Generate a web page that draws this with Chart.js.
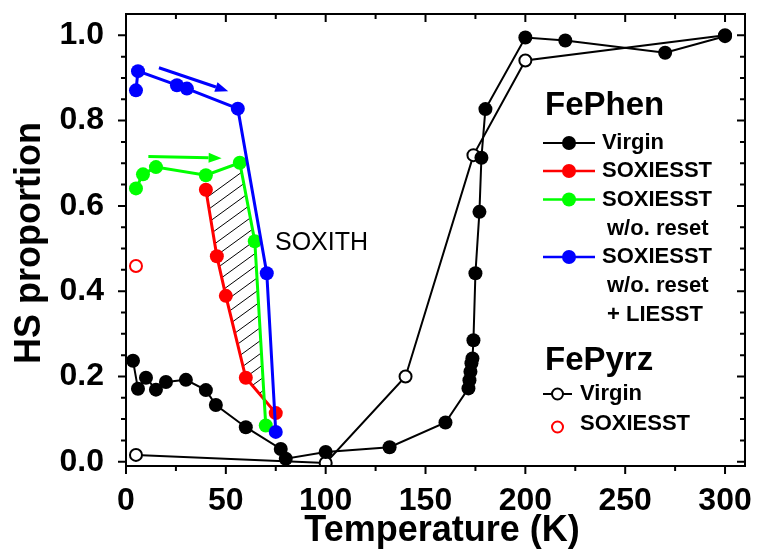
<!DOCTYPE html>
<html>
<head>
<meta charset="utf-8">
<script src="https://cdn.jsdelivr.net/npm/chart.js@4.4.1/dist/chart.umd.min.js"></script>
<style>
  html, body { margin: 0; padding: 0; background: #fff; }
  #wrap { width: 757px; height: 557px; }
</style>
</head>
<body>
<div id="wrap"><canvas id="hsChart" width="757" height="557"></canvas></div>
<script>
// FePhen virgin
const virginT = [3.5, 6, 10, 15, 20, 30, 40, 45, 60, 77.5, 80, 100, 132, 160, 171.5, 172, 172.5, 173, 173.5, 174, 175, 177, 178, 180, 200, 220, 270, 300];
const virginHS = [0.237, 0.171, 0.197, 0.169, 0.187, 0.192, 0.168, 0.133, 0.081, 0.030, 0.007, 0.023, 0.034, 0.092, 0.172, 0.191, 0.211, 0.231, 0.242, 0.285, 0.442, 0.586, 0.713, 0.827, 0.995, 0.988, 0.959, 0.998];
// FePhen SOXIESST
const redT = [40, 45.5, 50, 60, 75];
const redHS = [0.638, 0.482, 0.389, 0.197, 0.114];
// SOXIESST w/o. reset
const greenT = [5, 8.5, 15, 40, 57, 64.5, 70];
const greenHS = [0.641, 0.674, 0.691, 0.672, 0.701, 0.517, 0.085];
// SOXIESST w/o. reset + LIESST
const blueT = [5, 6, 25.5, 30.5, 56, 70.5, 75];
const blueHS = [0.871, 0.916, 0.883, 0.875, 0.828, 0.442, 0.070];
// FePyrz
const pyrzT = [5, 100, 140, 174, 200, 300];
const pyrzHS = [0.016, -0.003, 0.2, 0.719, 0.941, 1.0];
const pyrzSoxT = [5];
const pyrzSoxHS = [0.459];
// SOXITH area (hatched)
const hatchT = [40, 57, 64.5, 69.2, 60, 50, 45.5];
const hatchHS = [0.638, 0.701, 0.517, 0.146, 0.197, 0.389, 0.482];
// arrows [T0, HS0, T1, HS1]
const blueArrow = [16.5, 0.924, 51.2, 0.869];
const greenArrow = [11.2, 0.716, 47.9, 0.712];

const xTicks = [0, 50, 100, 150, 200, 250, 300];
const yTicks = [0, 0.2, 0.4, 0.6, 0.8, 1.0];

const FONT = '"Liberation Sans", Arial, Helvetica, sans-serif';

function pts(xs, ys) {
    return xs.map((x, i) => ({ x: x, y: ys[i] }));
}

// hatch + arrows + frame + legend
const extras = {
    id: 'extras',
    beforeDatasetsDraw(chart) {
        const ctx = chart.ctx;
        const xs = chart.scales.x, ys = chart.scales.y;
        ctx.save();
        ctx.beginPath();
        hatchT.forEach((t, i) => {
            const px = xs.getPixelForValue(t), py = ys.getPixelForValue(hatchHS[i]);
            i === 0 ? ctx.moveTo(px, py) : ctx.lineTo(px, py);
        });
        ctx.closePath();
        ctx.clip();
        ctx.strokeStyle = '#000';
        ctx.lineWidth = 1;
        const slope = Math.tan(36 * Math.PI / 180);
        for (let c = 100; c < 520; c += 13) {
            ctx.beginPath();
            ctx.moveTo(180, c);
            ctx.lineTo(300, c - 120 * slope);
            ctx.stroke();
        }
        ctx.restore();
    },
    afterDatasetsDraw(chart) {
        const ctx = chart.ctx;
        const xs = chart.scales.x, ys = chart.scales.y;
        const arrow = (a, color) => {
            const x0 = xs.getPixelForValue(a[0]), y0 = ys.getPixelForValue(a[1]);
            const x1 = xs.getPixelForValue(a[2]), y1 = ys.getPixelForValue(a[3]);
            const ang = Math.atan2(y1 - y0, x1 - x0);
            const hl = 13, hw = 5;
            ctx.save();
            ctx.strokeStyle = color;
            ctx.fillStyle = color;
            ctx.lineWidth = 3;
            ctx.beginPath();
            ctx.moveTo(x0, y0);
            ctx.lineTo(x1 - hl * Math.cos(ang), y1 - hl * Math.sin(ang));
            ctx.stroke();
            ctx.beginPath();
            ctx.moveTo(x1, y1);
            ctx.lineTo(x1 - hl * Math.cos(ang) - hw * Math.sin(ang), y1 - hl * Math.sin(ang) + hw * Math.cos(ang));
            ctx.lineTo(x1 - hl * Math.cos(ang) + hw * Math.sin(ang), y1 - hl * Math.sin(ang) - hw * Math.cos(ang));
            ctx.closePath();
            ctx.fill();
            ctx.restore();
        };
        arrow(blueArrow, '#0000ff');
        arrow(greenArrow, '#00ff00');

        // SOXITH label
        ctx.save();
        ctx.fillStyle = '#000';
        ctx.font = '25px ' + FONT;
        ctx.textBaseline = 'middle';
        ctx.fillText('SOXITH', xs.getPixelForValue(74.6), ys.getPixelForValue(0.513));
        ctx.restore();
    },
    afterDraw(chart) {
        const ctx = chart.ctx;
        const a = chart.chartArea;
        const xs = chart.scales.x, ys = chart.scales.y;
        ctx.save();
        ctx.strokeStyle = '#000';
        ctx.lineWidth = 2;
        ctx.strokeRect(a.left, a.top, a.right - a.left, a.bottom - a.top);
        ctx.beginPath();
        // x ticks: bottom outward, top inward
        for (let t = 0; t <= 300; t += 25) {
            const px = xs.getPixelForValue(t);
            const len = t % 50 === 0 ? 8 : 5;
            ctx.moveTo(px, a.bottom); ctx.lineTo(px, a.bottom + len);
            ctx.moveTo(px, a.top); ctx.lineTo(px, a.top + len);
        }
        // y ticks: left outward, right inward
        for (let k = 0; k <= 20; k++) {
            const py = ys.getPixelForValue(k * 0.05);
            const len = k % 4 === 0 ? 8 : 5;
            ctx.moveTo(a.left, py); ctx.lineTo(a.left - len, py);
            ctx.moveTo(a.right, py); ctx.lineTo(a.right - len, py);
        }
        ctx.stroke();

        // axis titles
        ctx.fillStyle = '#000';
        ctx.font = 'bold 36px ' + FONT;
        ctx.textAlign = 'center';
        ctx.textBaseline = 'alphabetic';
        ctx.fillText('Temperature (K)', 442, 541);
        ctx.save();
        ctx.translate(40, 243);
        ctx.rotate(-Math.PI / 2);
        ctx.fillText('HS proportion', 0, 0);
        ctx.restore();

        // legend
        ctx.textAlign = 'left';
        ctx.font = 'bold 33px ' + FONT;
        ctx.fillText('FePhen', 545, 115);
        ctx.fillText('FePyrz', 545, 370);
        ctx.textBaseline = 'middle';
        ctx.font = 'bold 22px ' + FONT;
        const rows = [
            ['#000000', 'Virgin', 143],
            ['#ff0000', 'SOXIESST', 171],
            ['#00ff00', 'SOXIESST', 199.5],
            ['#0000ff', 'SOXIESST', 257]
        ];
        rows.forEach(r => {
            ctx.strokeStyle = r[0];
            ctx.fillStyle = r[0];
            ctx.lineWidth = r[0] === '#000000' ? 2 : 2.5;
            ctx.beginPath();
            ctx.moveTo(543, r[2]); ctx.lineTo(595, r[2]);
            ctx.stroke();
            ctx.beginPath();
            ctx.arc(569, r[2], 7, 0, Math.PI * 2);
            ctx.fill();
            ctx.fillStyle = '#000';
            ctx.fillText(r[1], 602, r[2]);
        });
        ctx.fillText('w/o. reset', 607, 229);
        ctx.fillText('w/o. reset', 607, 286);
        ctx.fillText('+ LIESST', 607, 315);

        ctx.strokeStyle = '#000';
        ctx.lineWidth = 2;
        ctx.beginPath();
        ctx.moveTo(543, 394); ctx.lineTo(572, 394);
        ctx.stroke();
        ctx.fillStyle = '#fff';
        ctx.beginPath();
        ctx.arc(557.5, 394, 5.5, 0, Math.PI * 2);
        ctx.fill(); ctx.stroke();
        ctx.strokeStyle = '#ff0000';
        ctx.beginPath();
        ctx.arc(557.5, 427, 5.5, 0, Math.PI * 2);
        ctx.stroke();
        ctx.fillStyle = '#000';
        ctx.fillText('Virgin', 580, 394);
        ctx.fillText('SOXIESST', 580, 423.5);
        ctx.restore();
    }
};

new Chart(document.getElementById('hsChart'), {
    type: 'scatter',
    data: {
        datasets: [
            {
                label: 'SOXIESST w/o. reset + LIESST',
                data: pts(blueT, blueHS),
                showLine: true,
                borderColor: '#0000ff',
                backgroundColor: '#0000ff',
                borderWidth: 3,
                pointRadius: 7,
                pointBorderWidth: 0,
                order: 1
            },
            {
                label: 'SOXIESST w/o. reset',
                data: pts(greenT, greenHS),
                showLine: true,
                borderColor: '#00ff00',
                backgroundColor: '#00ff00',
                borderWidth: 3,
                pointRadius: 7,
                pointBorderWidth: 0,
                order: 2
            },
            {
                label: 'SOXIESST',
                data: pts(redT, redHS),
                showLine: true,
                borderColor: '#ff0000',
                backgroundColor: '#ff0000',
                borderWidth: 3,
                pointRadius: 7,
                pointBorderWidth: 0,
                order: 3
            },
            {
                label: 'Virgin',
                data: pts(virginT, virginHS),
                showLine: true,
                borderColor: '#000',
                backgroundColor: '#000',
                borderWidth: 2,
                pointRadius: 7,
                pointBorderWidth: 0,
                order: 4
            },
            {
                label: 'FePyrz Virgin',
                data: pts(pyrzT, pyrzHS),
                showLine: true,
                borderColor: '#000',
                backgroundColor: '#fff',
                borderWidth: 2,
                pointRadius: 6,
                pointBorderWidth: 2,
                order: 5
            },
            {
                label: 'FePyrz SOXIESST',
                data: pts(pyrzSoxT, pyrzSoxHS),
                showLine: false,
                borderColor: '#ff0000',
                backgroundColor: 'rgba(255,255,255,0)',
                pointRadius: 6,
                pointBorderWidth: 2,
                order: 6
            }
        ]
    },
    options: {
        responsive: false,
        animation: false,
        layout: { padding: { top: 14, right: 12, left: 0, bottom: 0 } },
        plugins: {
            legend: { display: false },
            tooltip: { enabled: false }
        },
        scales: {
            x: {
                type: 'linear',
                min: 0,
                max: 310,
                grid: { display: false },
                border: { display: false },
                afterFit: s => { s.height = 91; s.paddingLeft = 0; s.paddingRight = 0; },
                afterBuildTicks: s => { s.ticks = xTicks.map(v => ({ value: v })); },
                ticks: {
                    padding: 8,
                    maxRotation: 0,
                    color: '#000',
                    font: { family: FONT, size: 32, weight: 'bold' }
                }
            },
            y: {
                type: 'linear',
                min: -0.01,
                max: 1.05,
                grid: { display: false },
                border: { display: false },
                afterFit: s => { s.width = 126; s.paddingTop = 0; s.paddingBottom = 0; },
                afterBuildTicks: s => { s.ticks = yTicks.map(v => ({ value: v })); },
                ticks: {
                    padding: 14,
                    color: '#000',
                    font: { family: FONT, size: 32, weight: 'bold' },
                    callback: v => v.toFixed(1)
                }
            }
        }
    },
    plugins: [extras]
});
</script>
</body>
</html>
